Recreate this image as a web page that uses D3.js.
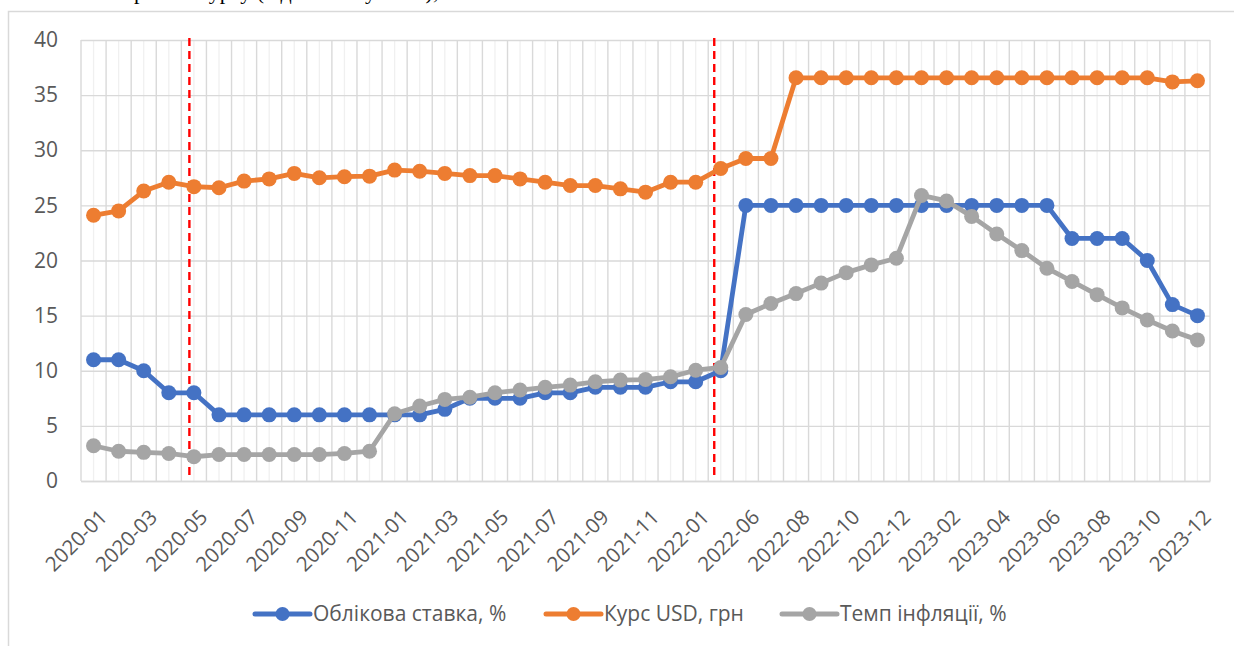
<!DOCTYPE html>
<html>
<head>
<meta charset="utf-8">
<script src="https://cdn.jsdelivr.net/npm/d3@7"></script>
<style>
  body { margin: 0; background: #fff; }
  svg { display: block; font-family: "Open Sans", "Noto Sans", sans-serif; }
</style>
</head>
<body>
<div id="chart"></div>
<script>
// months on the x axis (2022-03..05 are missing in the source data)
const months = [
  "2020-01","2020-02","2020-03","2020-04","2020-05","2020-06","2020-07","2020-08","2020-09","2020-10","2020-11","2020-12",
  "2021-01","2021-02","2021-03","2021-04","2021-05","2021-06","2021-07","2021-08","2021-09","2021-10","2021-11","2021-12",
  "2022-01","2022-02","2022-06","2022-07","2022-08","2022-09","2022-10","2022-11","2022-12",
  "2023-01","2023-02","2023-03","2023-04","2023-05","2023-06","2023-07","2023-08","2023-09","2023-10","2023-11","2023-12"
];

const discountRate = [11,11,10,8,8,6,6,6,6,6,6,6,6,6,6.5,7.5,7.5,7.5,8,8,8.5,8.5,8.5,9,9,10,
  25,25,25,25,25,25,25,25,25,25,25,25,25,22,22,22,20,16,15];

const usdRate = [24.1,24.5,26.3,27.1,26.7,26.6,27.2,27.4,27.9,27.5,27.6,27.65,28.2,28.1,27.9,27.7,27.7,27.4,
  27.1,26.8,26.8,26.5,26.2,27.1,27.1,28.35,29.25,29.25,
  36.57,36.57,36.57,36.57,36.57,36.57,36.57,36.57,36.57,36.57,36.57,36.57,36.57,36.57,36.57,36.2,36.3];

const inflation = [3.2,2.7,2.6,2.5,2.2,2.4,2.4,2.4,2.4,2.4,2.5,2.7,6.1,6.8,7.4,7.6,8.0,8.25,8.5,8.7,9.0,9.15,
  9.2,9.45,10.05,10.3,15.1,16.1,17.0,17.95,18.9,19.6,20.2,25.9,25.4,24.0,22.4,20.9,19.3,18.1,16.9,15.7,14.6,13.6,12.8];

const seriesNames = ["Облікова ставка, %", "Курс USD, грн", "Темп інфляції, %"];
const seriesColors = ["#4472C4", "#ED7D31", "#A5A5A5"];

const yTicks = [0, 5, 10, 15, 20, 25, 30, 35, 40];

// red dashed markers, as position on the month index (between points)
const eventMarks = [3.82, 24.74];

const width = 1234;
const height = 646;
const plot = {left: 81, right: 1210, top: 40, bottom: 481};

const svg = d3.select("#chart")
  .append("svg")
  .attr("width", width)
  .attr("height", height);

// line of document text above the chart, cut off by the top edge like in the source
svg.append("text")
  .attr("x", 134)
  .attr("y", -1)
  .attr("font-family", "'Liberation Serif', serif")
  .attr("font-size", 22)
  .attr("fill", "#000")
  .text("рівень курсу (від ставки у 2022),");

// chart frame
svg.append("rect")
  .attr("x", 8.5)
  .attr("y", 11.5)
  .attr("width", 1400)
  .attr("height", 800)
  .attr("fill", "none")
  .attr("stroke", "#d9d9d9")
  .attr("stroke-width", 1.5);

const x = d3.scaleLinear()
  .domain([-0.5, months.length - 0.5])
  .range([plot.left, plot.right]);

const y = d3.scaleLinear()
  .domain([0, 40])
  .range([plot.bottom, plot.top]);

//minor vertical gridlines through every point
svg.append("g")
  .selectAll("line")
  .data(months)
  .join("line")
    .attr("x1", (d, i) => x(i))
    .attr("x2", (d, i) => x(i))
    .attr("y1", plot.top)
    .attr("y2", plot.bottom)
    .attr("stroke", "#f0f0f0")
    .attr("stroke-width", 1.3);

//major vertical gridlines between categories
svg.append("g")
  .selectAll("line")
  .data(d3.range(months.length + 1))
  .join("line")
    .attr("x1", d => x(d - 0.5))
    .attr("x2", d => x(d - 0.5))
    .attr("y1", plot.top)
    .attr("y2", plot.bottom)
    .attr("stroke", "#d9d9d9")
    .attr("stroke-width", 1.4);

// y axis with horizontal grid
const leftAxis = d3.axisLeft(y)
  .tickValues(yTicks)
  .tickSize(-(plot.right - plot.left))
  .tickPadding(23);

const yAxis = svg.append("g")
  .attr("class", "axis-y")
  .attr("transform", `translate(${plot.left}, 0)`)
  .call(leftAxis);

yAxis.select(".domain").remove();
yAxis.selectAll(".tick line")
  .attr("stroke", "#d9d9d9")
  .attr("stroke-width", 1.4);
yAxis.selectAll(".tick text")
  .attr("fill", "#595959")
  .attr("font-size", 21)
  .attr("font-family", "'Open Sans', sans-serif");

// x axis labels, every second month
const bottomAxis = d3.axisBottom(x)
  .tickValues(d3.range(0, months.length, 2))
  .tickFormat(i => months[i])
  .tickSize(0);

const xAxis = svg.append("g")
  .attr("class", "axis-x")
  .attr("transform", `translate(0, ${plot.bottom})`)
  .call(bottomAxis);

xAxis.select(".domain").attr("stroke", "#d9d9d9").attr("stroke-width", 1.5);
xAxis.selectAll(".tick text")
  .attr("fill", "#595959")
  .attr("font-size", 20.5)
  .attr("font-family", "'Open Sans', sans-serif")
  .attr("text-anchor", "end")
  .attr("y", 0)
  .attr("dy", "0.72em")
  .attr("transform", "translate(4, 27) rotate(-45)");

// red dashed event lines
svg.append("g")
  .selectAll("line")
  .data(eventMarks)
  .join("line")
    .attr("x1", d => x(d))
    .attr("x2", d => x(d))
    .attr("y1", plot.top - 2)
    .attr("y2", plot.bottom - 4)
    .attr("stroke", "#ff0000")
    .attr("stroke-width", 2.4)
    .attr("stroke-dasharray", "8,5");

// series lines + markers
const series = [discountRate, usdRate, inflation];

const lineGen = d3.line()
  .x((d, i) => x(i))
  .y(d => y(d));

series.forEach((values, k) => {
  const g = svg.append("g").attr("class", "series-" + k);
  g.append("path")
    .datum(values)
    .attr("d", lineGen)
    .attr("fill", "none")
    .attr("stroke", seriesColors[k])
    .attr("stroke-width", 4.8)
    .attr("stroke-linejoin", "round");
  g.selectAll("circle")
    .data(values)
    .join("circle")
      .attr("cx", (d, i) => x(i))
      .attr("cy", d => y(d))
      .attr("r", 7.5)
      .attr("fill", seriesColors[k]);
});

// legend
const legendX = [255, 546, 782];
const legendY = 614;

const legend = svg.append("g")
  .selectAll("g")
  .data(seriesNames)
  .join("g")
    .attr("class", "legend-item")
    .attr("transform", (d, i) => `translate(${legendX[i]}, ${legendY})`);

legend.append("line")
  .attr("x1", 0)
  .attr("x2", 55)
  .attr("stroke", (d, i) => seriesColors[i])
  .attr("stroke-width", 5)
  .attr("stroke-linecap", "round");

legend.append("circle")
  .attr("cx", 27.5)
  .attr("r", 7)
  .attr("fill", (d, i) => seriesColors[i]);

legend.append("text")
  .attr("x", 58)
  .attr("dy", "0.35em")
  .attr("fill", "#595959")
  .attr("font-size", 21)
  .text(d => d);
</script>
</body>
</html>
